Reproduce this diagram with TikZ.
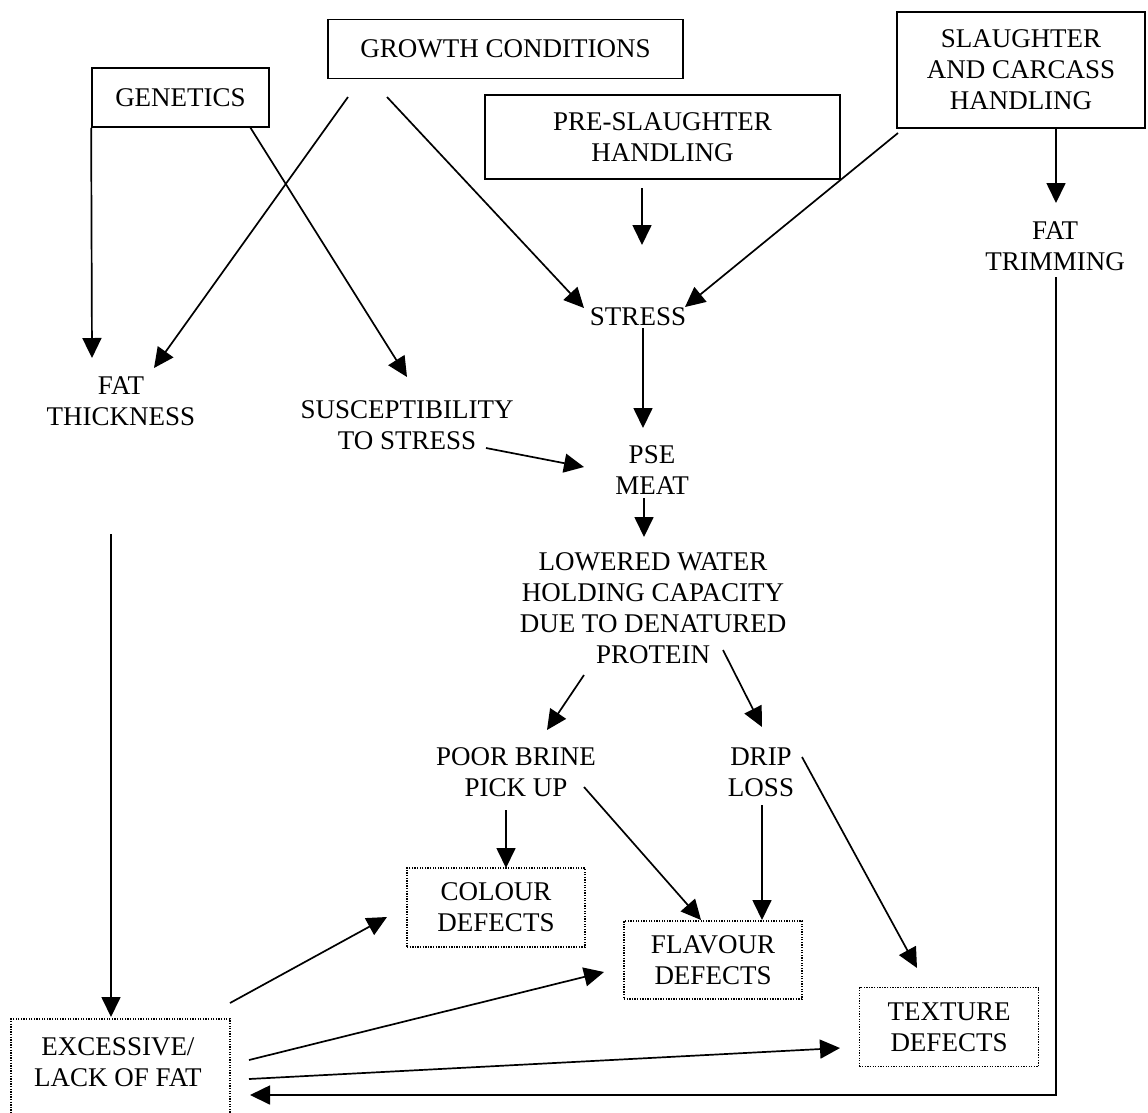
\documentclass[tikz,border=0pt]{standalone}
\usepackage{fontspec}
\setmainfont{Liberation Serif}
\usetikzlibrary{arrows.meta}
\begin{document}
\begin{tikzpicture}[x=1pt,y=-1pt,
  txt/.style={inner sep=0pt,align=center,font=\fontsize{27}{31}\selectfont},
  solidbox/.style={draw,line width=1.7pt,inner sep=0pt,align=center,font=\fontsize{27}{31}\selectfont},
  dotbox/.style={draw,line width=1.8pt,dash pattern=on 1.3pt off 1.3pt,inner sep=0pt,align=center,font=\fontsize{27}{31}\selectfont},
  arr/.style={line width=1.7pt,-{Triangle[length=20pt,width=19pt]}}]
\clip (0,0) rectangle (1148,1112);
\fill[white] (0,0) rectangle (1148,1112);
% boxes
\node[solidbox,minimum width=355pt,minimum height=59pt] (grow) at (505.5,49) {GROWTH CONDITIONS};
\node[solidbox,minimum width=177pt,minimum height=59pt] (gen) at (180.5,97.5) {GENETICS};
\node[solidbox,minimum width=355pt,minimum height=84pt] (pre) at (662.5,137) {PRE-SLAUGHTER\\HANDLING};
\node[solidbox,minimum width=248pt,minimum height=116pt] (sl) at (1021,70) {SLAUGHTER\\AND CARCASS\\HANDLING};
% text nodes
\node[txt] (trim) at (1055,246) {FAT\\TRIMMING};
\node[txt] (stress) at (638,317) {STRESS};
\node[txt] (fatth) at (121,401) {FAT\\THICKNESS};
\node[txt] (susc) at (407,425) {SUSCEPTIBILITY\\TO STRESS};
\node[txt] (pse) at (652,470) {PSE\\MEAT};
\node[txt] (low) at (653,608) {LOWERED WATER\\HOLDING CAPACITY\\DUE TO DENATURED\\PROTEIN};
\node[txt] (poor) at (516,772) {POOR BRINE\\PICK UP};
\node[txt] (drip) at (761,772) {DRIP\\LOSS};
% dotted boxes
\node[dotbox,minimum width=178pt,minimum height=79pt] (colour) at (496,907.5) {COLOUR\\DEFECTS};
\node[dotbox,minimum width=178pt,minimum height=78pt] (flav) at (713,960) {FLAVOUR\\DEFECTS};
\node[dotbox,minimum width=179pt,minimum height=79pt] (tex) at (949,1027) {TEXTURE\\DEFECTS};
\node[dotbox,minimum width=219pt,minimum height=106pt] (excbox) at (120.5,1072) {};
\node[txt] (exct) at (118,1062) {EXCESSIVE/\\LACK OF FAT};
% connectors
\draw[arr] (gen.south west) -- ([shift={(-29,-43)}]fatth.center);
\draw[arr] ([shift={(-157.5,48)}]grow.center) -- ([shift={(33,-33)}]fatth.center);
\draw[arr] ([shift={(69.5,29.5)}]gen.center) -- ([shift={(0,-48)}]susc.center);
\draw[arr] ([shift={(-118.5,48)}]grow.center) -- ([shift={(-54,-9)}]stress.center);
\draw[arr] ([shift={(-20.5,51)}]pre.center) -- ([shift={(4,-72)}]stress.center);
\draw[arr] ([shift={(-123,63)}]sl.center) -- ([shift={(47,-10)}]stress.center);
\draw[arr] ([shift={(35,58)}]sl.center) -- ([shift={(1,-43)}]trim.center);
\draw[arr] ([shift={(5,11)}]stress.center) -- ([shift={(-9,-42)}]pse.center);
\draw[arr] ([shift={(79,23)}]susc.center) -- ([shift={(-68,-3)}]pse.center);
\draw[arr] ([shift={(-8,28)}]pse.center) -- ([shift={(-9,-71)}]low.center);
\draw[arr] ([shift={(-69,67)}]low.center) -- ([shift={(31,-42)}]poor.center);
\draw[arr] ([shift={(70,42)}]low.center) -- ([shift={(1,-45)}]drip.center);
\draw[arr] ([shift={(-10,38)}]poor.center) -- ([shift={(10,-39.5)}]colour.center);
\draw[arr] ([shift={(68,15)}]poor.center) -- ([shift={(-12,-40)}]flav.center);
\draw[arr] ([shift={(1,33)}]drip.center) -- ([shift={(49,-40)}]flav.center);
\draw[arr] ([shift={(41,-15)}]drip.center) -- ([shift={(-32,-59)}]tex.center);
\draw[arr] ([shift={(109.5,-69)}]excbox.center) -- ([shift={(-109,9.5)}]colour.center);
\draw[arr] ([shift={(128.5,-12)}]excbox.center) -- ([shift={(-109,12)}]flav.center);
\draw[arr] ([shift={(128.5,7)}]excbox.center) -- ([shift={(-109,21)}]tex.center);
\draw[arr] ([shift={(-10,133)}]fatth.center) -- ([shift={(-9.5,-55)}]excbox.center);
\draw[arr] ([shift={(1,31)}]trim.center) |- ([shift={(129.5,23)}]excbox.center);
\end{tikzpicture}
\end{document}
